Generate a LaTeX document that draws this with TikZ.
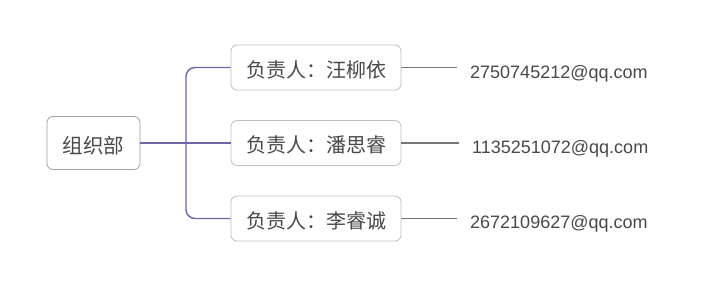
\documentclass[tikz,border=0pt]{standalone}
\usepackage{fontspec}
\setmainfont{Liberation Sans}
\newfontfamily\cjk{Noto Sans CJK SC}
\usepackage{tikz}
\usetikzlibrary{positioning,calc}
\definecolor{mapline}{RGB}{112,100,166}
\definecolor{mapgray}{RGB}{120,118,116}
\definecolor{mapedge}{RGB}{192,190,192}
\definecolor{maptext}{RGB}{72,72,72}
\tikzset{
  rootbox/.style={draw=mapedge!85!black, line width=0.8pt, fill=white, rounded corners=6pt,
    align=center, minimum width=93pt, minimum height=53pt, inner sep=0pt, text=maptext,
    text height=21pt, text depth=1pt, font=\cjk\fontsize{20.5}{22}\selectfont},
  leadbox/.style={draw=mapedge, line width=0.8pt, fill=white, rounded corners=6pt,
    align=center, minimum width=170pt, minimum height=45pt, inner sep=0pt, text=maptext,
    text height=20.5pt, text depth=1pt, font=\cjk\fontsize{20}{22}\selectfont},
  mailtext/.style={anchor=west, inner xsep=13pt, inner ysep=0pt, text=maptext,
    font=\fontsize{18}{20}\selectfont},
  branch/.style={line width=1.4pt, mapline, rounded corners=9pt},
  leaf/.style={line width=1.2pt, mapgray}
}

\begin{document}
\begin{tikzpicture}[x=1pt,y=-1pt]
  \useasboundingbox (0,0) rectangle (714,286);
  \node[rootbox] (org) at (93.5,143) {组织部};
  \node[leadbox] (lead1) at (316,67.5) {负责人：汪柳依};
  \node[leadbox] (lead2) at (316,143) {负责人：潘思睿};
  \node[leadbox] (lead3) at (316,218.5) {负责人：李睿诚};
  \node[mailtext] (mail1) at (457,73.5) {2750745212@qq.com};
  \node[mailtext] (mail2) at (459,148.5) {1135251072@qq.com};
  \node[mailtext] (mail3) at (457,223.5) {2672109627@qq.com};
  \coordinate (fork) at (186,143);
  \draw[branch] (org.east) -- (lead2.west);
  \draw[branch] (lead1.west) -| (fork) |- (lead3.west);
  \draw[leaf] (lead1.east) -- (mail1.west |- lead1.east);
  \draw[leaf] (lead2.east) -- (mail2.west |- lead2.east);
  \draw[leaf] (lead3.east) -- (mail3.west |- lead3.east);
\end{tikzpicture}
\end{document}
